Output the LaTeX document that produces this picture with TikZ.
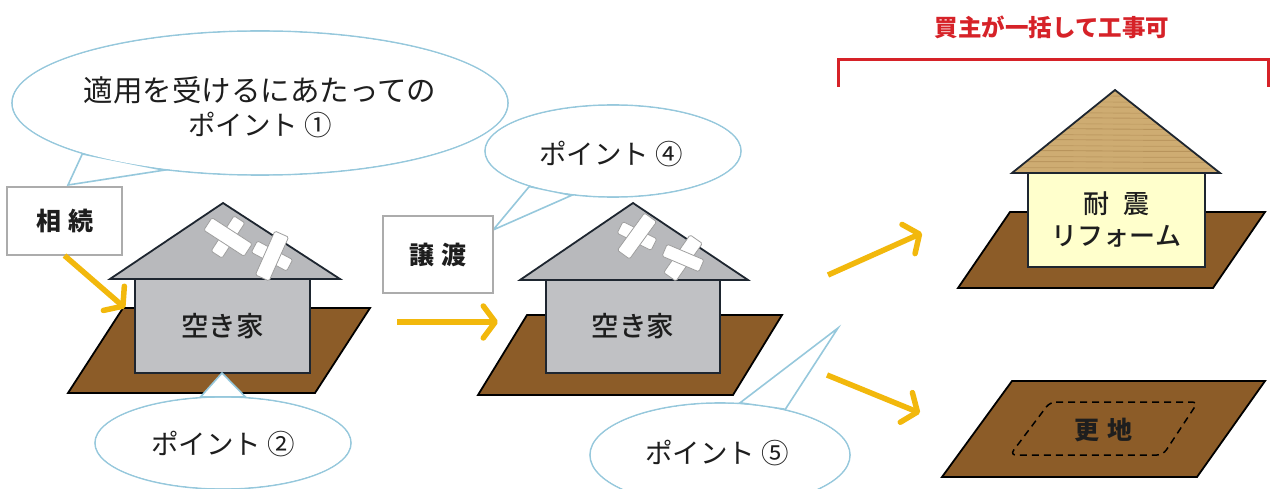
\documentclass[tikz,border=0pt]{standalone}
\usepackage{fontspec}
\setmainfont{Noto Sans CJK JP}
\newfontfamily\jpmedium{Noto Sans CJK JP Medium}
\usetikzlibrary{arrows.meta,shapes.geometric}

\definecolor{bubblecol}{RGB}{150,200,220}
\definecolor{groundcol}{RGB}{140,92,40}
\definecolor{wallgray}{RGB}{192,193,196}
\definecolor{roofgray}{RGB}{184,185,188}
\definecolor{outlinecol}{RGB}{30,38,48}
\definecolor{arrowcol}{RGB}{242,184,12}
\definecolor{redcol}{RGB}{214,34,40}
\definecolor{wallcream}{RGB}{255,255,204}
\definecolor{woodcol}{RGB}{206,172,114}
\definecolor{wooddark}{RGB}{170,132,78}
\definecolor{textcol}{RGB}{30,30,30}

\begin{document}
\begin{tikzpicture}[x=1pt,y=-1pt,
  bubbleedge/.style={ellipse, draw=bubblecol, line width=1.6pt, fill=white, inner sep=0pt},
  bubbletext/.style={inner sep=0pt, text=textcol, align=center,
    font=\fontsize{27.5}{34}\selectfont},
  tail/.style={draw=bubblecol, fill=white, line width=1.6pt, line join=miter},
  labelbox/.style={draw=gray!65, line width=1.1pt, fill=white, inner sep=0pt,
    font=\fontsize{25}{30}\selectfont\bfseries, text=textcol},
  ground/.style={fill=groundcol, draw=black, line width=1.8pt, line join=miter},
  wallbox/.style={draw=outlinecol, line width=1.8pt, inner sep=0pt,
    font=\fontsize{27.5}{30}\selectfont\jpmedium, text=textcol},
  roof/.style={draw=outlinecol, line width=1.8pt, line join=miter},
  band/.style={fill=white, draw=gray!75, line width=0.8pt, rounded corners=1.5pt},
  flow/.style={draw=arrowcol, line width=5.5pt,
    -{Straight Barb[length=12pt, width=32pt, round]}},
]
\useasboundingbox (0,0) rectangle (1272,489);

% ---------- bubble 1 (top left) ----------
\node[bubbleedge, minimum width=496pt, minimum height=144pt] (p1) at (260,103) {};
\coordinate (t1) at (68,185);
\filldraw[tail] (p1.196.5) -- (t1) -- (p1.215) -- cycle;
\fill[white] (p1.center) ellipse [x radius=247.1pt, y radius=71.1pt];
\node[bubbletext] (p1label) at (260,107)
  {{\fontsize{29.5}{35}\selectfont 適用を受けるにあたっての}\\ポイント ①};

% ---------- bubble 4 ----------
\node[bubbleedge, minimum width=256pt, minimum height=92pt] (p4) at (613,151) {};
\coordinate (t4) at (493,230);
\filldraw[tail] (p4.203.5) -- (t4) -- (p4.227) -- cycle;
\fill[white] (p4.center) ellipse [x radius=127.1pt, y radius=45.1pt];
\node[bubbletext] (p4label) at (611,154) {ポイント ④};

% ---------- label boxes ----------
\node[labelbox, minimum width=115pt, minimum height=68pt] (s1) at (64.5,221) {相\hspace{7pt}続};
\node[labelbox, minimum width=110pt, minimum height=77pt] (s2) at (438,254.5) {譲\hspace{7pt}渡};

% ---------- house 1 ----------
\draw[ground] (68,393) -- (123,308) -- (370,308) -- (315,393) -- cycle;
\node[wallbox, fill=wallgray, minimum width=175pt, minimum height=94pt] (h1) at (222.5,326) {空き家};
\draw[roof, fill=roofgray] (110,279) -- (223,203) -- (340,279) -- cycle;
\draw[band, rotate around={57:(228,237)}] (207,230.5) rectangle (249,243.5);
\draw[band, rotate around={-33:(228,237)}] (204,229.5) rectangle (252,244.5);
\draw[band, rotate around={-28:(272,256)}] (252,249.5) rectangle (292,262.5);
\draw[band, rotate around={66:(272,256)}] (248,248.5) rectangle (296,263.5);

% ---------- house 2 ----------
\draw[ground] (478,395) -- (527,315) -- (782,315) -- (733,395) -- cycle;
\node[wallbox, fill=wallgray, minimum width=174pt, minimum height=93pt] (h2) at (633,326.5) {空き家};
\draw[roof, fill=roofgray] (520,280) -- (633,203) -- (748,280) -- cycle;
\draw[band, rotate around={-27:(637,236)}] (618,229.5) rectangle (656,242.5);
\draw[band, rotate around={54:(637,236)}] (614,228.5) rectangle (660,243.5);
\draw[band, rotate around={55:(683,258)}] (660,250.5) rectangle (706,265.5);
\draw[band, rotate around={-23:(683,258)}] (663,251.5) rectangle (703,264.5);

% ---------- house 3 (renovated) ----------
\draw[ground] (958,288) -- (1010,212) -- (1265,212) -- (1213,288) -- cycle;
\node[wallbox, fill=wallcream, minimum width=177pt, minimum height=94pt, align=center,
      font=\fontsize{26}{32}\selectfont\jpmedium] (h3) at (1116.5,220)
      {耐\hspace{14pt}震\\リフォーム};
\fill[woodcol] (1012,173) -- (1115,90) -- (1220,173) -- cycle;
\begin{scope}
  \clip (1012,173) -- (1115,90) -- (1220,173) -- cycle;
  \foreach \yy/\op in {96/0.5,102/0.35,107/0.6,113/0.4,118/0.55,124/0.3,129/0.6,
                      135/0.4,140/0.5,146/0.35,151/0.6,157/0.4,162/0.5,168/0.35}
    \draw[wooddark, line width=0.9pt, opacity=\op]
      (1000,\yy) .. controls (1060,\yy-1.5) and (1150,\yy+1.5) .. (1230,\yy);
\end{scope}
\draw[roof] (1012,173) -- (1115,90) -- (1220,173) -- cycle;

% ---------- vacant lot ----------
\draw[ground] (942,477) -- (1012,381) -- (1265,381) -- (1197,477) -- cycle;
\draw[black, line width=1.5pt, dash pattern=on 7pt off 5pt, rounded corners=6pt]
  (1050,402) -- (1198,402) -- (1163,455) -- (1010,455) -- cycle;
\node[font=\fontsize{25}{28}\selectfont\bfseries, text=textcol] (lot) at (1103,430)
  {更\hspace{8pt}地};

% ---------- bubble 2 ----------
\node[bubbleedge, minimum width=256pt, minimum height=92pt] (p2) at (223,443) {};
\coordinate (t2) at (222,373);
\filldraw[tail] (p2.116) -- (t2) -- (p2.64) -- cycle;
\fill[white] (p2.center) ellipse [x radius=127.1pt, y radius=45.1pt];
\node[bubbletext] (p2label) at (223,444) {ポイント ②};

% ---------- bubble 5 ----------
\node[bubbleedge, minimum width=260pt, minimum height=104pt] (p5) at (720,455) {};
\coordinate (t5) at (838,328);
\filldraw[tail] (p5.69) -- (t5) -- (p5.35) -- cycle;
\fill[white] (p5.center) ellipse [x radius=129.1pt, y radius=51.1pt];
\node[bubbletext] (p5label) at (717,453) {ポイント ⑤};

% ---------- flow arrows ----------
\coordinate (a1) at (125,308);
\coordinate (a2s) at (397,322);
\coordinate (a2) at (498,322);
\coordinate (a3s) at (828,275);
\coordinate (a3) at (922,233);
\coordinate (a4s) at (827,375);
\coordinate (a4) at (920,413);
\draw[flow] (s1.south) -- (a1);
\draw[flow] (a2s) -- (a2);
\draw[flow] (a3s) -- (a3);
\draw[flow] (a4s) -- (a4);

% ---------- buyer bracket ----------
\coordinate (bl) at (838,87);
\coordinate (br) at (1268,87);
\draw[redcol, line width=3pt] (bl) -- (838,60) -- (1268,60) -- (br);
\node[font=\fontsize{23.5}{26}\selectfont\bfseries, text=redcol] (buyer) at (1052,27)
  {買主が一括して工事可};
\end{tikzpicture}
\end{document}
